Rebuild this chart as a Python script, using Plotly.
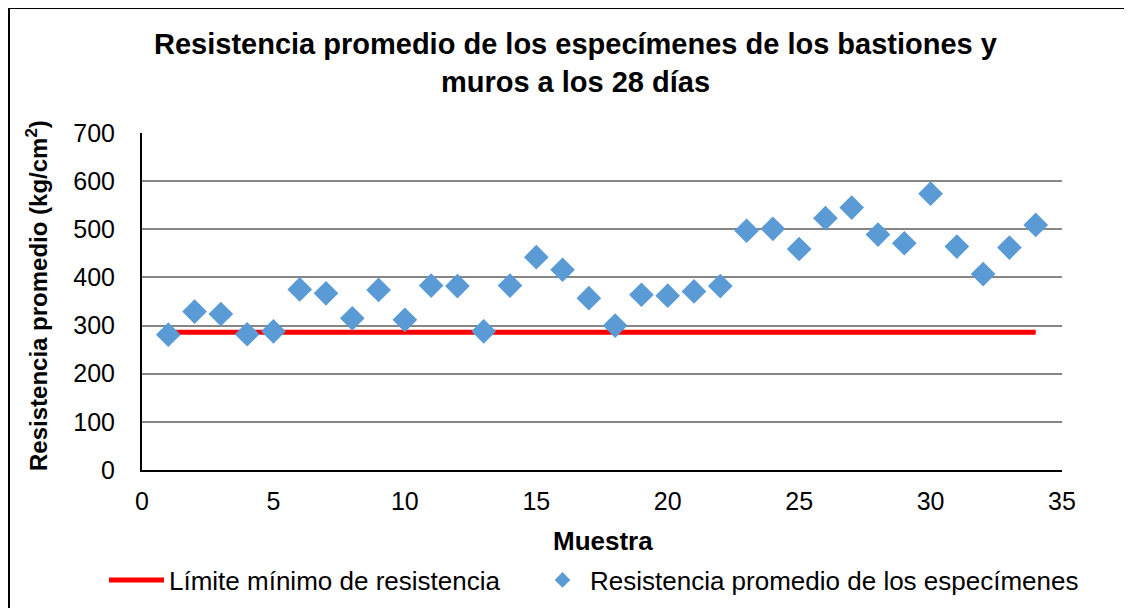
import plotly.graph_objects as go

# Sample numbers and average strength (kg/cm2)
muestra = list(range(1, 35))
resistencia = [281, 329, 324, 282, 288, 375, 367, 315, 374, 312,
               383, 382, 288, 383, 442, 416, 357, 300, 364, 362,
               371, 382, 497, 501, 459, 523, 545, 489, 471, 574,
               464, 407, 462, 509]

# Minimum strength limit
limite_x = [1, 34]
limite_y = [286, 286]

font_family = "Arial, Liberation Sans, sans-serif"

fig = go.Figure()

fig.add_trace(go.Scatter(
    x=limite_x, y=limite_y,
    mode='lines',
    name='Límite mínimo de resistencia',
    line=dict(color='#FF0000', width=5),
    legend='legend',
))

fig.add_trace(go.Scatter(
    x=muestra, y=resistencia,
    mode='markers',
    name='Resistencia promedio de los especímenes',
    marker=dict(symbol='diamond', size=19, color='#5B9BD5'),
    legend='legend2',
))

# page has an 8px body margin, so work in page pixels and shift back
OFF = 8
W, H = 1132, 608
L, R, T, B = 142 - OFF, 1062 - OFF, 133 - OFF, 470 - OFF
pw, ph = R - L, B - T

def px(x):
    return (x - OFF - L) / pw

def py(y):
    return (B - (y - OFF)) / ph

fig.update_layout(
    width=W, height=H,
    margin=dict(l=L, r=W - R, t=T, b=H - B),
    paper_bgcolor='white',
    plot_bgcolor='white',
    font=dict(family=font_family, size=25, color='black'),
    showlegend=True,
    legend=dict(
        orientation='h',
        x=px(104), xanchor='left',
        y=py(580), yanchor='middle',
        font=dict(size=26),
        itemwidth=55,
    ),
    legend2=dict(
        orientation='h',
        x=px(535), xanchor='left',
        y=py(580), yanchor='middle',
        font=dict(size=26),
        itemsizing='constant',
        itemwidth=45,
    ),
    xaxis=dict(
        range=[0, 35], dtick=5,
        showgrid=False, zeroline=False,
        showline=True, linecolor='black', linewidth=2,
        ticks='', ticklabelstandoff=8,
        tickfont=dict(size=25),
    ),
    yaxis=dict(
        range=[0, 700], dtick=100,
        showgrid=True, gridcolor='#868686', gridwidth=1.5,
        zeroline=False,
        showline=True, linecolor='black', linewidth=2,
        ticks='', ticklabelstandoff=20,
        tickfont=dict(size=25),
    ),
    annotations=[
        dict(text='<b>Resistencia promedio de los especímenes de los bastiones y<br>muros a los 28 días</b>',
             xref='paper', yref='paper', x=px(575), y=py(63),
             xanchor='center', yanchor='middle', showarrow=False,
             font=dict(size=29), align='center'),
        dict(text='<b>Muestra</b>',
             xref='paper', yref='paper', x=px(603), y=py(541),
             xanchor='center', yanchor='middle', showarrow=False,
             font=dict(size=26)),
        dict(text='<b>Resistencia promedio (kg/cm<sup>2</sup>)</b>',
             xref='paper', yref='paper', x=px(37), y=py(296),
             xanchor='center', yanchor='middle', showarrow=False,
             textangle=-90, font=dict(size=24)),
    ],
    shapes=[
        dict(type='rect', xref='paper', yref='paper',
             x0=px(9), x1=px(1150), y0=py(630), y1=py(8),
             line=dict(color='black', width=2), fillcolor='rgba(0,0,0,0)',
             layer='below'),
    ],
)

fig.write_html("out.html")
